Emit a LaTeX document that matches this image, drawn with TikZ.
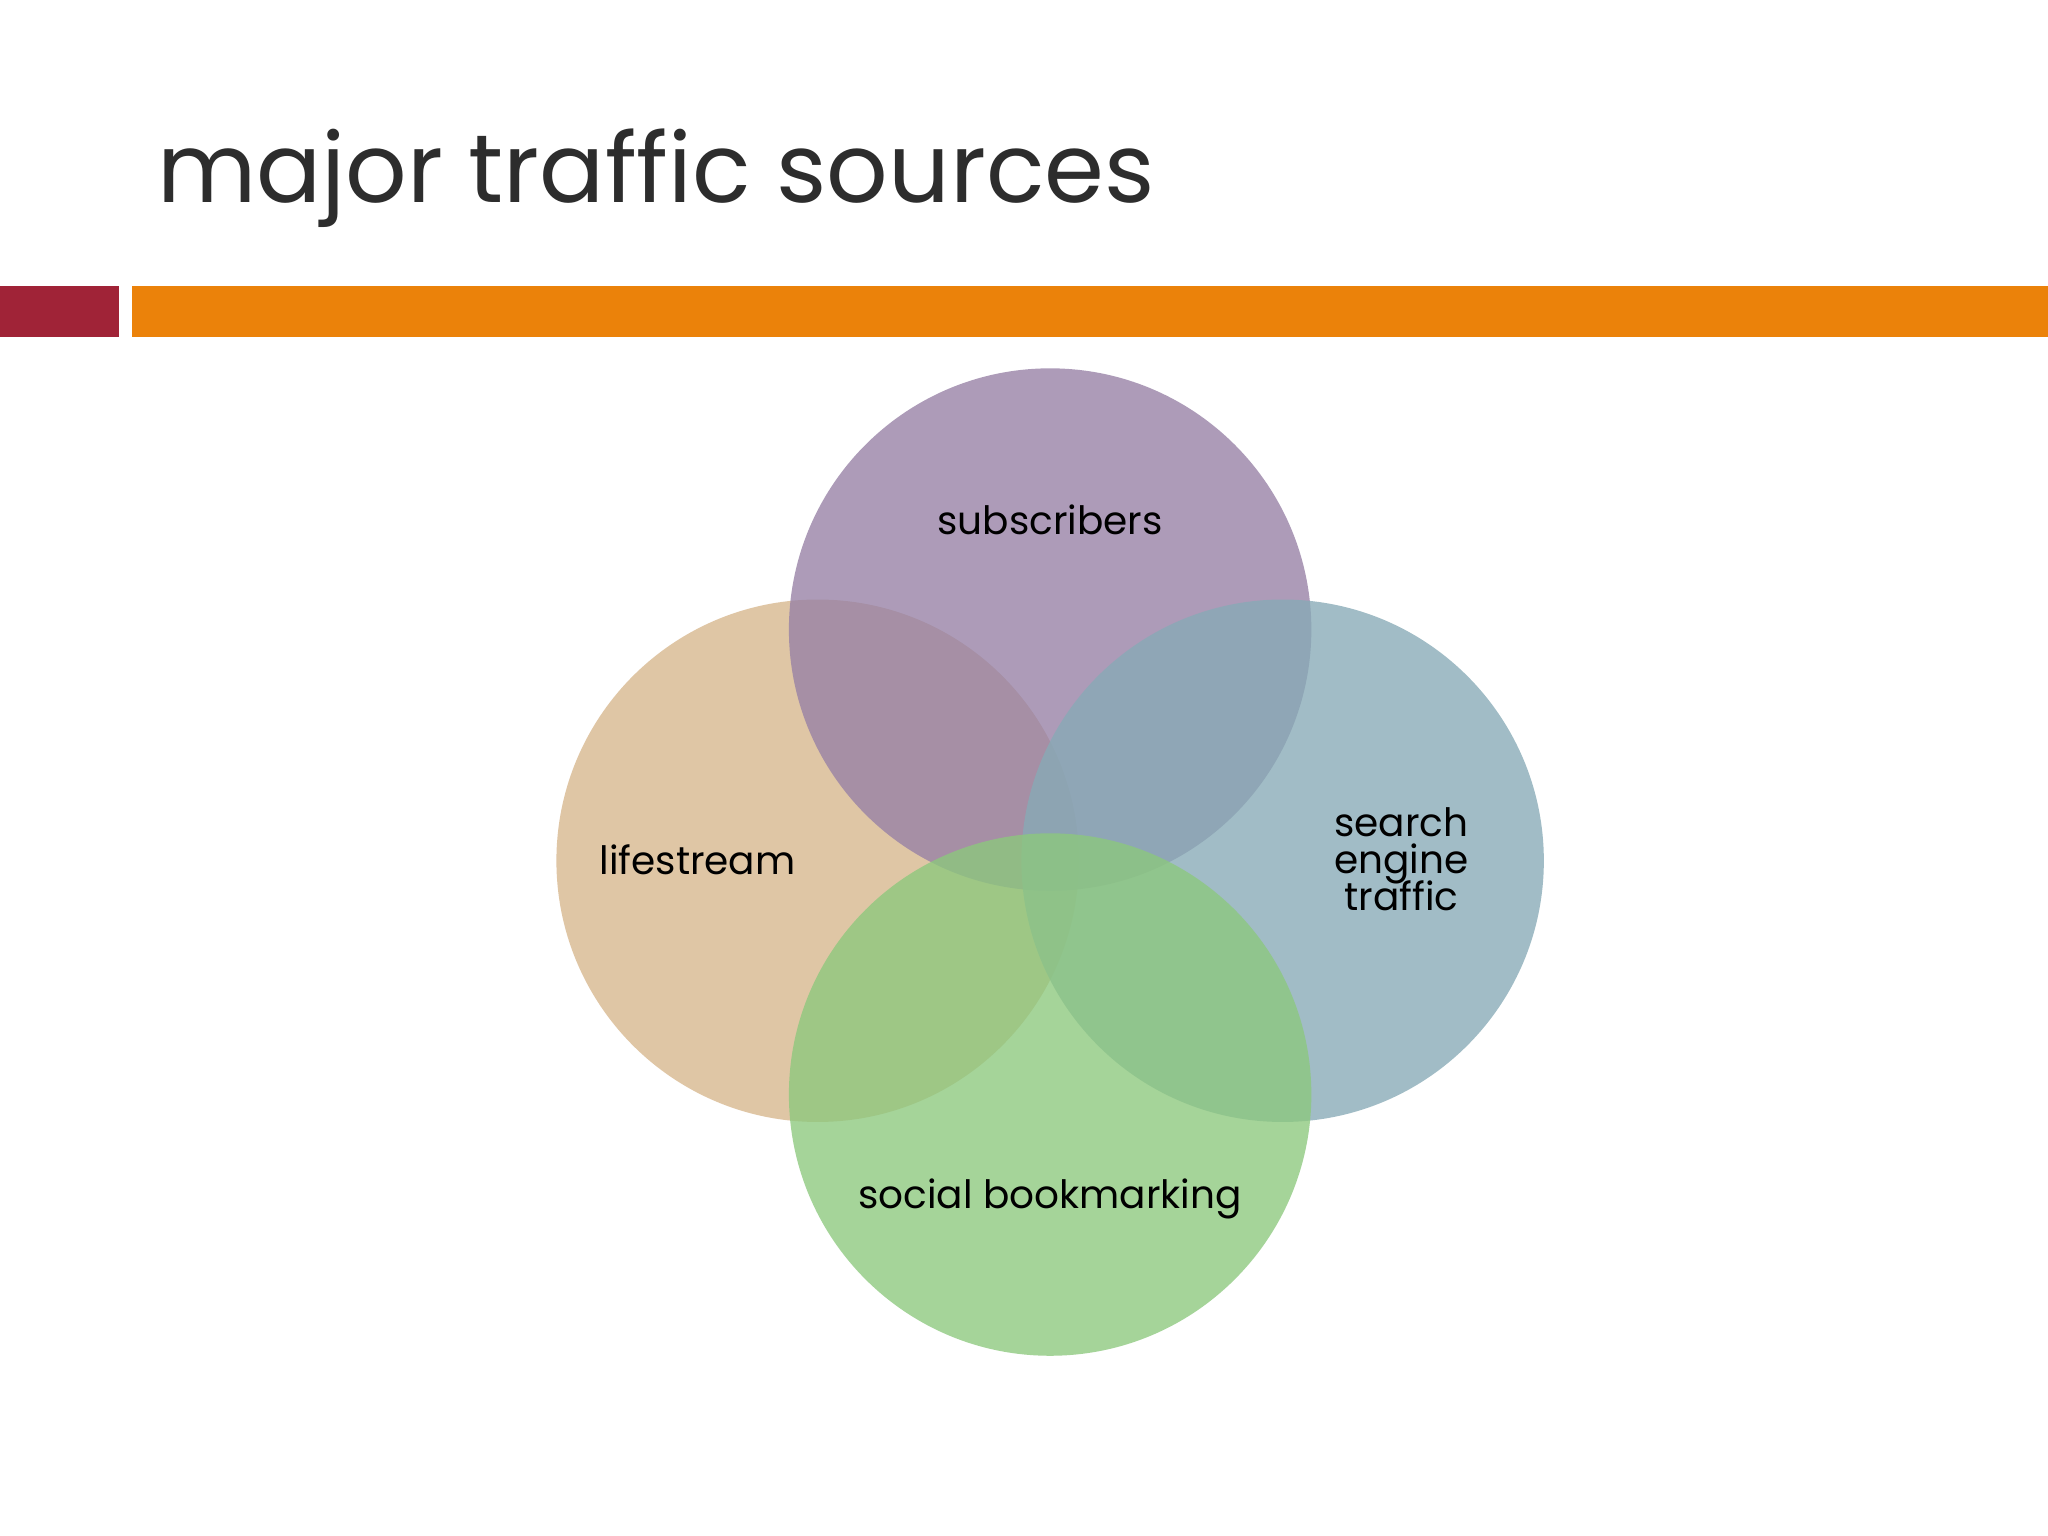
\documentclass[tikz,border=0pt]{standalone}
\usepackage{fontspec}
\setmainfont{Poppins}
\definecolor{cpur}{RGB}{150,128,165}
\definecolor{ctan}{RGB}{215,182,140}
\definecolor{cblu}{RGB}{135,170,182}
\definecolor{cgrn}{RGB}{140,200,125}
\definecolor{cred}{RGB}{160,35,55}
\definecolor{corg}{RGB}{235,130,10}
\definecolor{ctxt}{RGB}{45,45,45}
\begin{document}
\begin{tikzpicture}[x=0.02cm,y=-0.02cm,
  venn/.style={fill opacity=0.78,draw=none},
  lbl/.style={font=\fontsize{17}{20}\selectfont,text=black,align=center}]
\useasboundingbox[fill=white] (0,0) rectangle (1568,1176);
\node[anchor=base west,inner sep=0,text=ctxt,font=\fontsize{42}{48}\selectfont] (title) at (120,155) {major traffic sources};
\fill[cred] (0,219) rectangle (91,258);
\fill[corg] (101,219) rectangle (1568,258);
\fill[ctan,venn] (626,659) circle (200);
\fill[cpur,venn] (804,482) circle (200);
\fill[cblu,venn] (982,659) circle (200);
\fill[cgrn,venn] (804,838) circle (200);
\node[lbl] (s) at (804,398) {subscribers};
\node[lbl] (l) at (534,658) {lifestream};
\node[lbl] (e) at (1073,658) {search\\[-4pt]engine\\[-4pt]traffic};
\node[lbl] (b) at (804,918) {social bookmarking};
\end{tikzpicture}
\end{document}
